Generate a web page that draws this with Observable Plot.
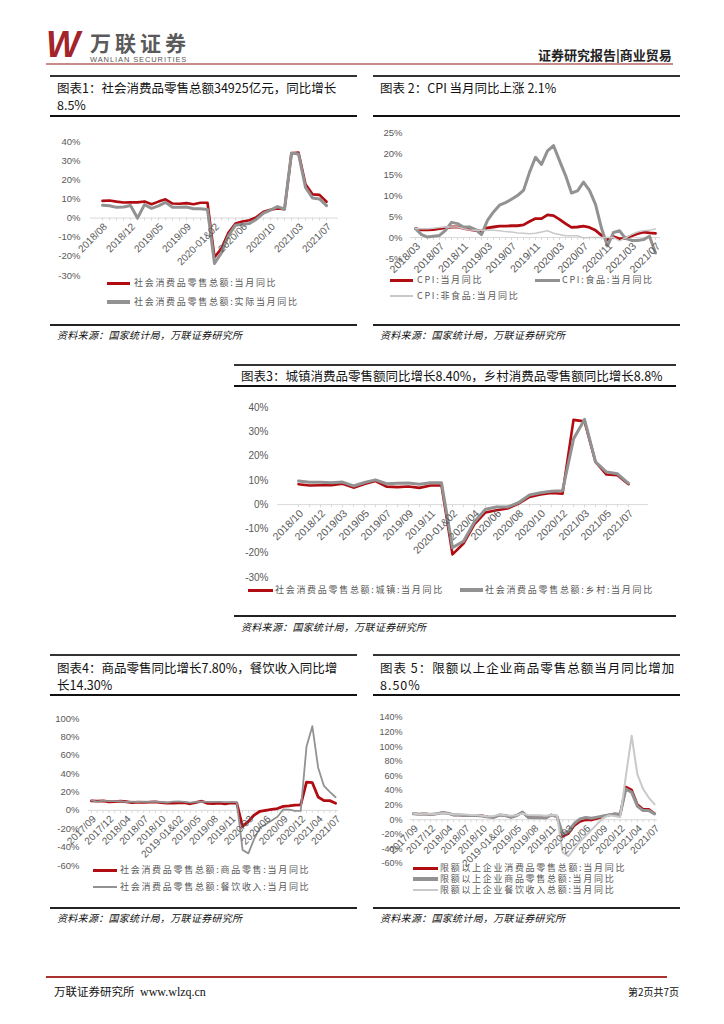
<!DOCTYPE html>
<html><head><meta charset="utf-8">
<script src="https://cdn.jsdelivr.net/npm/d3@7"></script>
<script src="https://cdn.jsdelivr.net/npm/@observablehq/plot@0.6"></script>
<style>
body{margin:0;background:#fff;}
#page{position:relative;width:724px;height:1024px;overflow:hidden;font-family:"Noto Sans CJK SC","Noto Sans",sans-serif;color:#111;background:#fff;}
.abs{position:absolute;white-space:nowrap;}
</style></head><body><div id="page"></div>
<script>
// ---------- Chart 1: 社会消费品零售总额 ----------
const c1Cats = ["2018/08","2018/09","2018/10","2018/11","2018/12","2019-01&02","2019/03","2019/04","2019/05","2019/06","2019/07","2019/08","2019/09","2019/10","2019/11","2019/12","2020-01&02","2020/03","2020/04","2020/05","2020/06","2020/07","2020/08","2020/09","2020/10","2020/11","2020/12","2021-01&02","2021/03","2021/04","2021/05","2021/06","2021/07"];
const c1Ticks = ["2018/08","2018/12","2019/05","2019/09","2020-01&02","2020/06","2020/10","2021/03","2021/07"];
const c1Nominal = [9.0,9.2,8.6,8.1,8.2,8.2,8.7,7.2,8.6,9.8,7.6,7.5,7.8,7.2,8.0,8.0,-20.5,-15.8,-7.5,-2.8,-1.8,-1.1,0.5,3.3,4.3,5.0,4.6,33.8,34.2,17.7,12.4,12.1,8.5];
const c1Real = [6.7,6.4,5.6,5.8,6.6,0,7.0,5.1,6.4,8.2,5.7,5.6,5.8,4.9,4.9,4.5,-23.7,-18.1,-9.1,-3.7,-3.2,-2.8,-0.6,2.6,4.2,6.0,4.6,34.0,33.5,16.0,10.5,10.0,6.5];

// ---------- Chart 2: CPI ----------
const c2Cats = ["2018/03","2018/04","2018/05","2018/06","2018/07","2018/08","2018/09","2018/10","2018/11","2018/12","2019/01","2019/02","2019/03","2019/04","2019/05","2019/06","2019/07","2019/08","2019/09","2019/10","2019/11","2019/12","2020/01","2020/02","2020/03","2020/04","2020/05","2020/06","2020/07","2020/08","2020/09","2020/10","2020/11","2020/12","2021/01","2021/02","2021/03","2021/04","2021/05","2021/06","2021/07"];
const c2Ticks = ["2018/03","2018/07","2018/11","2019/03","2019/07","2019/11","2020/03","2020/07","2020/11","2021/03","2021/07"];
const c2Cpi = [2.1,1.8,1.8,1.9,2.1,2.3,2.5,2.5,2.2,1.9,1.7,1.5,2.3,2.5,2.7,2.7,2.8,2.8,3.0,3.8,4.5,4.5,5.4,5.2,4.3,3.3,2.4,2.5,2.7,2.4,1.7,0.5,-0.5,0.2,-0.3,-0.2,0.4,0.9,1.3,1.1,1.0];
const c2Food = [2.1,0.7,0.1,0.3,0.5,1.7,3.6,3.3,2.5,2.5,1.9,0.7,4.1,6.1,7.7,8.3,9.1,10.0,11.2,15.5,19.1,17.4,20.6,21.9,18.3,14.8,10.6,11.1,13.2,11.2,7.9,2.2,-2.0,1.2,1.6,-0.2,-0.7,-0.7,-0.5,0.3,-3.7];
const c2NonFood = [2.1,2.1,2.1,2.2,2.4,2.5,2.5,2.5,2.1,1.8,1.7,1.7,1.8,1.7,1.6,1.4,1.3,1.1,1.0,0.9,1.0,1.3,1.6,1.0,0.7,0.4,0.4,0.4,-0.1,0.0,0.0,0.0,0.0,0.0,-0.8,-0.1,0.7,1.3,1.6,1.7,2.1];

// ---------- Chart 3: 城镇 / 乡村 ----------
const c3Cats = ["2018/10","2018/11","2018/12","2019-01&02","2019/03","2019/04","2019/05","2019/06","2019/07","2019/08","2019/09","2019/10","2019/11","2019/12","2020-01&02","2020/03","2020/04","2020/05","2020/06","2020/07","2020/08","2020/09","2020/10","2020/11","2020/12","2021-01&02","2021/03","2021/04","2021/05","2021/06","2021/07"];
const c3Ticks = ["2018/10","2018/12","2019/03","2019/05","2019/07","2019/09","2019/11","2020-01&02","2020/04","2020/06","2020/08","2020/10","2020/12","2021/03","2021/05","2021/07"];
const c3Urban = [8.4,7.9,8.0,8.0,8.6,7.0,8.5,9.7,7.4,7.2,7.5,6.9,7.9,7.9,-20.5,-16.0,-8.0,-3.2,-2.3,-1.6,0.4,3.2,4.2,4.8,4.5,34.9,34.3,17.6,12.4,12.1,8.4];
const c3Rural = [9.7,9.2,9.2,9.0,9.3,7.7,9.1,10.2,8.6,8.8,8.9,8.4,9.0,9.0,-17.7,-15.1,-7.0,-1.9,-1.0,-1.0,0.8,4.0,4.9,5.5,5.7,27.0,35.1,17.6,13.4,12.7,8.8];

// ---------- Charts 4 & 5 ----------
const c45Cats = ["2017/09","2017/10","2017/11","2017/12","2018-01&02","2018/03","2018/04","2018/05","2018/06","2018/07","2018/08","2018/09","2018/10","2018/11","2018/12","2019-01&02","2019/03","2019/04","2019/05","2019/06","2019/07","2019/08","2019/09","2019/10","2019/11","2019/12","2020-01&02","2020/03","2020/04","2020/05","2020/06","2020/07","2020/08","2020/09","2020/10","2020/11","2020/12","2021-01&02","2021/03","2021/04","2021/05","2021/06","2021/07"];
const c45Ticks = ["2017/09","2017/12","2018/04","2018/07","2018/10","2019-01&02","2019/05","2019/08","2019/11","2020/03","2020/06","2020/09","2020/12","2021/04","2021/07"];
const c4Goods = [10.3,10.0,10.3,9.4,9.6,10.1,9.4,8.5,9.0,8.8,8.9,9.2,8.5,8.0,8.0,8.1,8.5,7.2,8.7,10.0,7.6,7.4,7.8,7.1,8.2,8.0,-17.6,-12.0,-5.1,-1.0,0.0,1.0,2.0,4.4,5.0,5.8,5.9,30.7,30.1,14.6,10.6,10.6,7.8];
const c4Catering = [11.0,9.6,10.6,10.0,10.0,10.1,9.1,9.5,9.1,9.6,9.4,9.6,9.1,8.5,9.6,9.7,9.2,8.5,9.2,9.5,9.3,9.2,9.2,8.9,9.0,9.0,-43.1,-46.8,-31.1,-18.9,-15.2,-11.0,-7.0,1.0,0.8,-0.6,-0.6,69.6,91.6,46.4,26.6,20.2,14.3];
const c5Consumer = [8.4,7.5,8.1,7.0,8.0,9.6,9.0,6.5,6.5,5.7,5.8,6.0,5.4,3.9,3.4,6.5,5.9,3.4,5.8,10.0,3.2,3.0,3.4,2.5,6.4,4.2,-23.0,-19.0,-8.5,-2.5,-0.2,-0.5,1.5,4.0,6.5,8.0,7.0,45.0,41.0,21.0,14.5,14.5,8.5];
const c5Goods = [8.0,7.6,8.0,7.0,8.0,9.5,9.0,6.5,6.3,5.6,5.6,5.8,5.0,3.8,3.2,6.3,5.8,3.3,5.8,10.5,3.0,2.8,3.0,2.2,6.5,4.5,-19.5,-16.0,-5.5,1.0,3.0,2.0,3.5,5.0,6.5,8.0,7.5,42.0,37.5,18.5,12.5,12.5,8.0];
const c5Catering = [8.5,7.0,8.5,7.5,8.0,9.0,8.5,7.0,7.5,7.0,6.5,6.5,5.5,4.5,5.0,7.0,6.0,5.5,6.0,8.5,6.5,6.0,6.0,5.5,6.5,6.0,-45.0,-50.0,-40.0,-30.0,-22.0,-14.0,-6.0,2.0,6.0,5.0,3.5,60.0,115.0,62.0,42.0,30.0,21.0];

const RED = "#B00C12", GRAY = "#929292", LIGHT = "#C9C9C9";

// ---------- helpers ----------
const page = document.getElementById("page");
function el(style, text) {
  const e = document.createElement("div");
  e.className = "abs";
  Object.assign(e.style, style);
  if (text != null) e.textContent = text;
  page.appendChild(e);
  return e;
}
function hline(x1, x2, y, t, c) {
  el({left: x1 + "px", top: (y - t / 2) + "px", width: (x2 - x1) + "px", height: t + "px", background: c});
}
function textAt(x, yc, size, txt, extra) {
  return el(Object.assign({left: x + "px", top: (yc - size * 0.6) + "px", fontSize: size + "px", lineHeight: (size * 1.2) + "px"}, extra || {}), txt);
}
function legend(x1, x2, y, color, w, tx, label) {
  hline(x1, x2, y, w, color);
  textAt(tx, y, 9, label, {color: "#595959", letterSpacing: "1.7px"});
}
function box(x1, x2, top, titleLines, titleY, thickY, bottomY, sourceY, titleExtra) {
  hline(x1, x2, top, 1.2, "#333");
  titleLines.forEach((t, i) => textAt(x1 + 7, titleY + i * 17, 12.5, t, Object.assign({color: "#111"}, titleExtra || {})));
  hline(x1, x2, thickY, 2, "#111");
  hline(x1, x2, bottomY, 1.5, "#222");
  textAt(x1 + 7, sourceY, 10, "资料来源：国家统计局，万联证券研究所", {fontStyle: "italic", color: "#111", letterSpacing: "0.3px"});
}

function drawChart(o) {
  const yTicks = d3.range(o.yDomain[0], o.yDomain[1] + 1e-9, o.yStep);
  const frameH = o.height - o.mt - o.mb;
  const tl = 3 / (frameH / (o.yDomain[1] - o.yDomain[0]));
  const marks = [
    Plot.ruleY([0], {stroke: "#d9d9d9", strokeWidth: 1}),
    Plot.ruleX(o.cats, {x: d => d, y1: 0, y2: -tl, stroke: "#d9d9d9"}),
    Plot.axisY(yTicks, {tickSize: 0, tickPadding: o.tp, tickFormat: d => d + "%", fontSize: o.yfs || 9.5, color: "#595959"})
  ];
  for (const s of o.series) {
    marks.push(Plot.line(s.values, {x: (d, i) => o.cats[i], y: d => d, stroke: s.color, strokeWidth: s.w, strokeLinejoin: "round", strokeLinecap: "round"}));
  }
  marks.push(Plot.text(o.ticks, {x: d => d, y: 0, text: d => d, rotate: -45, textAnchor: "end", dx: 3, dy: 7, fontSize: o.lfs || 10, fill: "#595959"}));
  const svg = Plot.plot({
    width: o.width, height: o.height,
    marginLeft: o.ml, marginRight: o.mr, marginTop: o.mt, marginBottom: o.mb,
    style: {overflow: "visible", background: "transparent", fontFamily: "'Liberation Sans', Arial, sans-serif", color: "#595959"},
    x: {type: "point", domain: o.cats, padding: 0.5, axis: null},
    y: {domain: o.yDomain},
    marks
  });
  svg.style.position = "absolute";
  svg.style.left = o.left + "px";
  svg.style.top = o.top + "px";
  page.appendChild(svg);
}

// ---------- header ----------
el({left: "46px", top: "26px", fontFamily: "'Liberation Sans', Arial, sans-serif", fontWeight: "bold", fontStyle: "italic", fontSize: "36px", lineHeight: "38px", color: "#A3242A", letterSpacing: "-2px"}, "W");
textAt(90, 42, 21, "万联证券", {fontWeight: "bold", color: "#5a5a5a", letterSpacing: "4px", lineHeight: "23px", top: "30.5px"});
textAt(90, 59.5, 7.5, "WANLIAN SECURITIES", {fontFamily: "'Liberation Sans', Arial, sans-serif", color: "#5a5a5a", letterSpacing: "0.9px"});
textAt(538, 55, 13, "证券研究报告|商业贸易", {fontWeight: "bold", color: "#222"});
hline(46, 673, 64, 1.2, "#C98A8A");

// ---------- chart boxes ----------
box(50, 357, 76, ["图表1：社会消费品零售总额34925亿元，同比增长", "8.5%"], 87, 116, 325, 335);
box(373, 680, 76, ["图表 2：CPI 当月同比上涨 2.1%"], 87, 116, 325, 335);
box(234, 676, 365, ["图表3：城镇消费品零售额同比增长8.40%，乡村消费品零售额同比增长8.8%"], 375, 386, 616, 627);
box(50, 357, 655, ["图表4：商品零售同比增长7.80%，餐饮收入同比增", "长14.30%"], 667, 695, 908, 918);
box(373, 680, 655, ["图表 5：限额以上企业商品零售总额当月同比增加", "8.50%"], 667, 695, 908, 918, {letterSpacing: "1px"});

// ---------- charts ----------
drawChart({left: 50, top: 130, width: 307, height: 150, ml: 40, mr: 19, mt: 11, mb: 5, tp: 10,
  cats: c1Cats, ticks: c1Ticks, yDomain: [-30, 40], yStep: 10,
  series: [{values: c1Nominal, color: RED, w: 2.6}, {values: c1Real, color: GRAY, w: 3}]});
legend(107, 130, 283, RED, 3, 134, "社会消费品零售总额:当月同比");
legend(107, 130, 302, GRAY, 3.5, 134, "社会消费品零售总额:实际当月同比");

drawChart({left: 373, top: 122, width: 307, height: 140, ml: 37, mr: 20, mt: 10, mb: 4, tp: 8,
  cats: c2Cats, ticks: c2Ticks, yDomain: [-5, 25], yStep: 5, lfs: 10.5,
  series: [{values: c2Cpi, color: RED, w: 2.8}, {values: c2Food, color: GRAY, w: 3}, {values: c2NonFood, color: LIGHT, w: 1.5}]});
legend(390, 413, 280, RED, 3, 417, "CPI:当月同比");
legend(535, 560, 280, GRAY, 3, 562, "CPI:食品:当月同比");
legend(390, 413, 296, LIGHT, 1.5, 417, "CPI:非食品:当月同比");

drawChart({left: 234, top: 397, width: 442, height: 185, ml: 43, mr: 28, mt: 10, mb: 5, tp: 9,
  cats: c3Cats, ticks: c3Ticks, yDomain: [-30, 40], yStep: 10, lfs: 10.5, yfs: 10,
  series: [{values: c3Urban, color: RED, w: 2.6}, {values: c3Rural, color: GRAY, w: 3}]});
legend(248, 273, 590, RED, 3, 275, "社会消费品零售总额:城镇:当月同比");
legend(460, 483, 590, GRAY, 3.5, 485, "社会消费品零售总额:乡村:当月同比");

drawChart({left: 50, top: 708, width: 307, height: 162, ml: 38, mr: 19, mt: 10, mb: 5, tp: 9,
  cats: c45Cats, ticks: c45Ticks, yDomain: [-60, 100], yStep: 20,
  series: [{values: c4Goods, color: RED, w: 2.8}, {values: c4Catering, color: GRAY, w: 1.8}]});
legend(93, 117, 870, RED, 3, 120, "社会消费品零售总额:商品零售:当月同比");
legend(93, 117, 887, GRAY, 2, 120, "社会消费品零售总额:餐饮收入:当月同比");

drawChart({left: 373, top: 707, width: 307, height: 161, ml: 37, mr: 23, mt: 10, mb: 5, tp: 8,
  cats: c45Cats, ticks: c45Ticks, yDomain: [-60, 140], yStep: 20, yfs: 9,
  series: [{values: c5Consumer, color: RED, w: 2.4}, {values: c5Goods, color: GRAY, w: 3}, {values: c5Catering, color: LIGHT, w: 2}]});
legend(413, 438, 868, RED, 3, 440, "限额以上企业消费品零售总额:当月同比");
legend(413, 438, 879, GRAY, 3.5, 440, "限额以上企业商品零售总额:当月同比");
legend(413, 438, 890, LIGHT, 2, 440, "限额以上企业餐饮收入总额:当月同比");

// ---------- footer ----------
hline(46, 667, 977, 2.2, "#A8322D");
textAt(54, 992, 11.5, "万联证券研究所 ", {color: "#111"});
textAt(140, 992, 12, "www.wlzq.cn", {fontFamily: "'Liberation Serif', 'Times New Roman', serif", color: "#111"});
textAt(628, 992, 10, "第2页共7页", {color: "#111"});
</script></body></html>
